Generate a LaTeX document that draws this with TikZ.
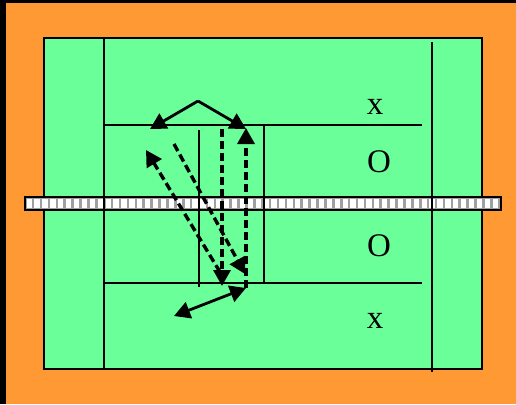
\documentclass[tikz,border=0pt]{standalone}
\usepackage{fontspec}
\setmainfont{Liberation Serif}
\usetikzlibrary{arrows.meta}
\definecolor{fond}{HTML}{FF9933}
\definecolor{terrain}{HTML}{6BFF99}
\definecolor{filetgris}{HTML}{A0A0A0}
\tikzset{
  ligne/.style={line width=2pt, color=black},
  fleche/.style={-{Triangle[length=16pt,width=17pt]}, line width=2.8pt},
  flechedouble/.style={{Triangle[length=16pt,width=17pt]}-{Triangle[length=16pt,width=17pt]}, line width=2.8pt},
  flechetiret/.style={fleche, line width=3.4pt, dash pattern=on 8pt off 4pt},
  joueur/.style={font=\fontsize{33}{33}\selectfont, inner sep=0pt},
}

\begin{document}
\begin{tikzpicture}[x=1pt, y=-1pt]
    \useasboundingbox (0,0) rectangle (516,404);
    % Fond
    \fill[black] (0,0) rectangle (516,404);
    \fill[fond] (6,3.5) rectangle (516,404);
    \draw[ligne, fill=terrain] (44,38) rectangle (482,369);
    % Filet
    \fill[filetgris] (25,197) rectangle (501,210);
    \foreach \i in {0,...,59} {
      \fill[white] (26.5+7.9*\i,199) rectangle (31.8+7.9*\i,208);
    }
    \draw[black, line width=1.5pt] (25,197) rectangle (501,210);
    % Lignes du terrain
    \draw[ligne] (104,38) -- (104,369);
    \draw[ligne] (432,42) -- (432,372);
    \draw[ligne] (104,125) -- (422,125);
    \draw[ligne] (104,283) -- (422,283);
    \draw[ligne] (199,130) -- (199,287);
    \draw[ligne] (264,125) -- (264,283);
    % Joueurs
    \node[joueur] (x1) at (375,107) {x};
    \node[joueur] (o1) at (379,162) {O};
    \node[joueur] (o2) at (379,246) {O};
    \node[joueur] (x2) at (375,321) {x};
    % Points des trajectoires
    \coordinate (sommet) at (198,101);
    \coordinate (hautg) at (150,129);
    \coordinate (hautd) at (246,129);
    \coordinate (diagAbas) at (220,272);
    \coordinate (diagAhaut) at (146,150);
    \coordinate (diagBhaut) at (174,144);
    \coordinate (diagBbas) at (245,274);
    \coordinate (vertChaut) at (222,129);
    \coordinate (vertCbas) at (222,286);
    \coordinate (vertDbas) at (246,288);
    \coordinate (vertDhaut) at (246,128);
    \coordinate (basg) at (174,316);
    % Trajectoires
    \draw[fleche] (sommet) -- (hautg);
    \draw[fleche] (sommet) -- (hautd);
    \draw[flechetiret] (diagAbas) -- (diagAhaut);
    \draw[flechetiret] (diagBhaut) -- (diagBbas);
    \draw[flechetiret] (vertChaut) -- (vertCbas);
    \draw[flechetiret] (vertDbas) -- (vertDhaut);
    \draw[flechedouble] (basg) -- (vertDbas);
  \end{tikzpicture}
\end{document}
